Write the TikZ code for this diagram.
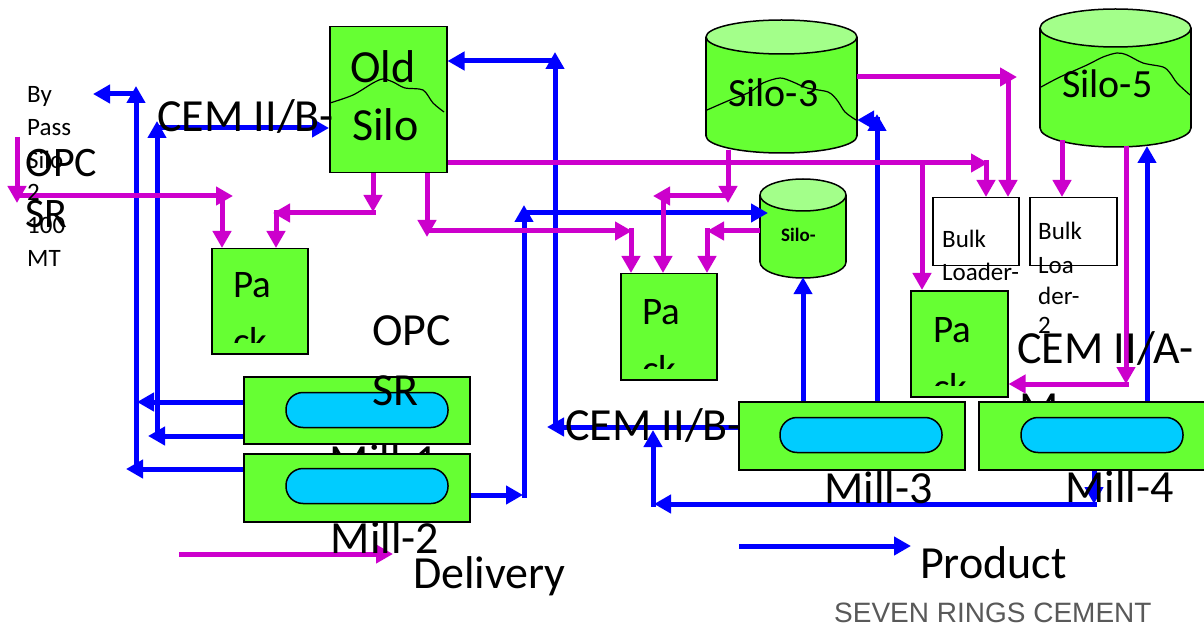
\documentclass[tikz,border=0pt]{standalone}
\usepackage{fontspec}
\setmainfont{Carlito}
\newfontfamily\arialf{Liberation Sans}
\usetikzlibrary{arrows.meta}
\definecolor{blueC}{RGB}{0,0,255}
\definecolor{magC}{RGB}{204,0,204}
\definecolor{greenC}{RGB}{102,255,51}
\definecolor{lightC}{RGB}{163,255,138}
\definecolor{cyanC}{RGB}{0,204,255}
\definecolor{grayC}{RGB}{89,89,89}
\newcommand\fbig{\fontsize{46pt}{50pt}\selectfont}
\newcommand\fopc{\fontsize{42pt}{46pt}\selectfont}
\newcommand\fpack{\fontsize{39pt}{44pt}\selectfont}
\newcommand\fsilo{\fontsize{40pt}{44pt}\selectfont}
\newcommand\fsmall{\fontsize{25pt}{28pt}\selectfont}
\newcommand\drawcyl[5]{%
 \fill[greenC] ({#1-#2},#3) rectangle ({#1+#2},#4);
 \fill[greenC] (#1,#4) ellipse [x radius=#2pt, y radius=#5pt];
 \begin{scope}\clip ({#1-#2-3},#4) rectangle ({#1+#2+3},{#4+#5+3});
 \draw[line width=1.5pt] (#1,#4) ellipse [x radius=#2pt, y radius=#5pt];\end{scope}
 \draw[line width=1.5pt] ({#1-#2},#3) -- ({#1-#2},#4) ({#1+#2},#3) -- ({#1+#2},#4);
 \filldraw[fill=lightC, line width=1.5pt] (#1,#3) ellipse [x radius=#2pt, y radius=#5pt];
}
\tikzset{
 arrhead/.style={-{Triangle[length=17pt,width=18pt]}},
 bl/.style={draw=blueC, line width=5pt, arrhead},
 mg/.style={draw=magC, line width=5pt, arrhead},
 box/.style={draw=black, line width=1.5pt, fill=greenC, inner sep=0pt, anchor=north west},
 wbox/.style={draw=black, line width=1.5pt, fill=white, inner sep=0pt, anchor=north west},
 pill/.style={draw=black, line width=1.5pt, fill=cyanC, rounded corners=17pt, minimum width=162pt, minimum height=35pt, inner sep=0pt},
 txt/.style={inner sep=0pt, anchor=base west},
 ctxt/.style={inner sep=0pt, anchor=base},
 wave/.style={draw=black, line width=1.2pt},
 ghost/.style={inner sep=0pt},
}
\begin{document}
\begin{tikzpicture}[x=1pt,y=-1pt]
\useasboundingbox (0,0) rectangle (1204,628);
\fill[white] (0,0) rectangle (1204,628);

% labels lying under the mill boxes
\node[ctxt] (tM1) at (384,476) {\fbig Mill-1};
\node[txt] (tCemA2) at (1019,423) {\fbig M};

% mills
\node[box, minimum width=226pt, minimum height=67pt] (mill1) at (243,376) {};
\node[pill] (pill1) at (367,410) {};
\node[box, minimum width=226pt, minimum height=68pt] (mill2) at (243,453) {};
\node[pill] (pill2) at (367,486) {};
\node[box, minimum width=226pt, minimum height=68pt] (mill3) at (738,401) {};
\node[pill] (pill3) at (861,435) {};
\node[box, minimum width=226pt, minimum height=68pt] (mill4) at (978,401) {};
\node[pill] (pill4) at (1102,435) {};

% old silo
\node[box, minimum width=117pt, minimum height=146pt] (oldsilo) at (329,26) {};
\draw[wave] plot[smooth] coordinates {(330,103) (353,95) (373,83) (383,79) (393,82) (405,88) (423,90) (433,103) (444,112)};

% packers and bulk loaders
\node[box, minimum width=96pt, minimum height=105pt] (pack1) at (211,248) {};
\node[box, minimum width=96pt, minimum height=106pt] (pack2) at (620,273) {};
\node[box, minimum width=97pt, minimum height=106pt] (pack3) at (910,290) {};
\node[wbox, minimum width=86pt, minimum height=68pt] (bulk1) at (932,197) {};
\node[wbox, minimum width=87pt, minimum height=68pt] (bulk2) at (1029,197) {};

% silos (cylinders)
\drawcyl{781.5}{75.5}{37}{136}{17}
\draw[wave] plot[smooth] coordinates {(707,110) (730,100) (750,92) (763,83) (780,78) (793,82) (807,88) (828,92) (837,100) (845,112) (856,120)};
\node[ghost, minimum width=151pt, minimum height=133pt] (silo3) at (781.5,86.5) {};
\drawcyl{1115.5}{75.5}{28}{128}{19}
\draw[wave] plot[smooth] coordinates {(1041,87) (1060,77) (1087,65) (1103,57) (1117,53) (1127,55) (1143,63) (1163,67) (1170,73) (1177,83) (1190,95)};
\node[ghost, minimum width=151pt, minimum height=139pt] (silo5) at (1115.5,77.5) {};
\drawcyl{803}{43}{195}{262}{16}
\node[ghost, minimum width=86pt, minimum height=98pt] (silo4) at (803,228) {};

% ---------- blue (product) connectors ----------
\coordinate (a1b) at (136,471.5);
\coordinate (a1t) at (136,86);
\coordinate (a1h) at (138.5,94);
\coordinate (a1l) at (93,94);
\coordinate (a2) at (137,402);
\coordinate (a3) at (148,436);
\coordinate (a4b) at (157,438.5);
\coordinate (a4t) at (157,121);
\coordinate (a4h) at (154.5,128);
\coordinate (a5) at (126,469);
\draw[bl] (mill2.west |- a5) -- (a5);
\draw[bl] (a1b) -- (a1t);
\draw[bl] (a1h) -- (a1l);
\draw[bl] (mill1.west |- a2) -- (a2);
\draw[bl] (mill1.west |- a3) -- (a3);
\draw[bl] (a4b) -- (a4t);
\draw[bl] (a4h) -- (oldsilo.west |- a4h);

\coordinate (b1) at (523,495);
\coordinate (b1b) at (524,497.5);
\coordinate (b1t) at (524,205);
\coordinate (b1h) at (521.5,213);
\coordinate (b1r) at (768,213);
\draw[bl] (mill2.east |- b1) -- (b1);
\draw[bl] (b1b) -- (b1t);
\draw[bl] (b1h) -- (b1r);

\coordinate (c1) at (547,427);
\coordinate (c2b) at (555,429.5);
\coordinate (c2t) at (555,52);
\coordinate (c2h) at (557.5,61);
\draw[bl] (mill3.west |- c1) -- (c1);
\draw[bl] (c2b) -- (c2t);
\draw[bl] (c2h) -- (oldsilo.east |- c2h);

\coordinate (d1) at (1094,504);
\coordinate (d2r) at (1096.5,504);
\coordinate (d2l) at (654,504);
\coordinate (d3b) at (653,506.5);
\coordinate (d3t) at (653,430);
\draw[bl] (mill4.south -| d1) -- (d1);
\draw[bl] (d2r) -- (d2l);
\draw[bl] (d3b) -- (d3t);

\coordinate (e1) at (877,114);
\coordinate (e1h) at (879.5,120);
\coordinate (e2) at (1147,146);
\draw[bl] (mill3.north -| silo4.south) -- (silo4.south);
\draw[bl] (mill3.north -| e1) -- (e1);
\draw[bl] (e1h) -- (silo3.east |- e1h);
\draw[bl] (mill4.north -| e2) -- (e2);

% ---------- magenta (delivery) connectors ----------
\coordinate (m1a) at (17,137);
\coordinate (m1b) at (17,203);
\coordinate (m1c) at (14.5,196);
\coordinate (m1d) at (233,196);
\coordinate (m1e) at (222,193.5);
\draw[mg] (m1a) -- (m1b);
\draw[mg] (m1c) -- (m1d);
\draw[mg] (m1e) -- (pack1.north -| m1e);

\coordinate (m2a) at (373,212);
\coordinate (m2c) at (375.5,213);
\coordinate (m2d) at (273,213);
\coordinate (m2e) at (276,210.5);
\draw[mg] (oldsilo.south -| m2a) -- (m2a);
\draw[mg] (m2c) -- (m2d);
\draw[mg] (m2e) -- (pack1.north -| m2e);

\coordinate (m3a) at (427,237);
\coordinate (m3c) at (424.5,231);
\coordinate (m3d) at (632,231);
\coordinate (m3e) at (631,228.5);
\draw[mg] (oldsilo.south -| m3a) -- (m3a);
\draw[mg] (m3c) -- (m3d);
\draw[mg] (m3e) -- (pack2.north -| m3e);

\coordinate (m4a) at (728,150);
\coordinate (m4b) at (728,203);
\coordinate (m4c) at (730.5,196);
\coordinate (m4d) at (653,196);
\coordinate (m4e) at (663,193.5);
\draw[mg] (m4a) -- (m4b);
\draw[mg] (m4c) -- (m4d);
\draw[mg] (m4e) -- (pack2.north -| m4e);

\coordinate (m5a) at (707,231);
\coordinate (m5b) at (707,228.5);
\draw[mg] (silo4.west |- m5a) -- (m5a);
\draw[mg] (m5b) -- (pack2.north -| m5b);

\coordinate (m6a) at (988,163);
\coordinate (m6b) at (986,160.5);
\coordinate (m6c) at (922,160.5);
\draw[mg] (oldsilo.east |- m6a) -- (m6a);
\draw[mg] (m6b) -- (bulk1.north -| m6b);
\draw[mg] (m6c) -- (pack3.north -| m6c);

\coordinate (m7a) at (1017,77);
\coordinate (m7b) at (1008,74.5);
\draw[mg] (silo3.east |- m7a) -- (m7a);
\draw[mg] (m7b) -- (bulk1.north -| m7b);

\coordinate (m8a) at (1062,140);
\draw[mg] (m8a) -- (bulk2.north -| m8a);

\coordinate (m9a) at (1126,146);
\coordinate (m9b) at (1126,384);
\coordinate (m9c) at (1128.5,384);
\draw[mg] (m9a) -- (m9b);
\draw[mg] (m9c) -- (pack3.east |- m9c);

% legend
\coordinate (lg1) at (179,554);
\coordinate (lg2) at (393,554);
\coordinate (lg3) at (739,546);
\coordinate (lg4) at (911,546);
\draw[mg] (lg1) -- (lg2);
\draw[bl] (lg3) -- (lg4);

% ---------- texts ----------
\node[txt] (tOld) at (350,83) {\fbig Old};
\node[txt] (tOldS) at (352,141) {\fbig Silo};
\node[txt] (tCemB1) at (157,132) {\fbig CEM II/B-};

\node[txt] (tBy) at (27,103) {\fsmall By};
\node[txt] (tPass) at (27,135.6) {\fsmall Pass};
\node[txt] (tSiloL) at (27,168.2) {\fsmall Silo};
\node[txt] (tTwo) at (27,200.8) {\fsmall 2};
\node[txt] (tHund) at (27,233.4) {\fsmall 100};
\node[txt] (tMT) at (27,266) {\fsmall MT};
\node[txt] (tOpcL) at (25,177) {\fopc OPC};
\node[txt] (tSrL) at (25,228) {\fopc SR};

\node[txt] (tP1) at (233,298) {\fpack Pa};
\begin{scope}\clip (211,248) rectangle (307,342);
\node[txt] (tP1b) at (233,354) {\fpack ck};\end{scope}
\node[txt] (tP2) at (642,324) {\fpack Pa};
\begin{scope}\clip (620,273) rectangle (716,368);
\node[txt] (tP2b) at (642,382) {\fpack ck};\end{scope}
\node[txt] (tP3) at (933,342) {\fpack Pa};
\begin{scope}\clip (910,290) rectangle (1007,385);
\node[txt] (tP3b) at (933,400) {\fpack ck};\end{scope}

\node[txt] (tS3) at (728,107) {\fsilo Silo-3};
\node[txt] (tS5) at (1062,98) {\fsilo Silo-5};
\node[txt] (tS4) at (781,242) {\fontsize{19pt}{22pt}\selectfont\bfseries Silo-};

\node[txt] (tB1a) at (942,248) {\fsmall Bulk};
\node[txt] (tB1b) at (942,280) {\fsmall Loader-};
\node[txt] (tB2a) at (1038,240) {\fsmall Bulk};
\node[txt] (tB2b) at (1038,273) {\fsmall Loa};
\node[txt] (tB2c) at (1038,305) {\fsmall der-};
\node[txt] (tB2d) at (1038,333) {\fsmall 2};

\node[txt] (tCemA1) at (1017,363) {\fbig CEM II/A-};
\node[txt] (tCemB2) at (565,440) {\fbig CEM II/B-};
\node[txt] (tOpcM) at (372,345) {\fbig OPC};
\node[txt] (tSrM) at (372,405) {\fbig SR};

\node[ctxt] (tM2) at (385,553) {\fbig Mill-2};
\node[txt] (tM3) at (824,503) {\fbig Mill-3};
\node[txt] (tM4) at (1065,502) {\fbig Mill-4};

\node[txt] (tDel) at (413,588) {\fbig Delivery};
\node[txt] (tProd) at (920,578) {\fbig Product};
\node[txt, text=grayC] (tSeven) at (834,622) {\arialf\fontsize{28pt}{32pt}\selectfont SEVEN RINGS CEMENT};
\end{tikzpicture}
\end{document}
